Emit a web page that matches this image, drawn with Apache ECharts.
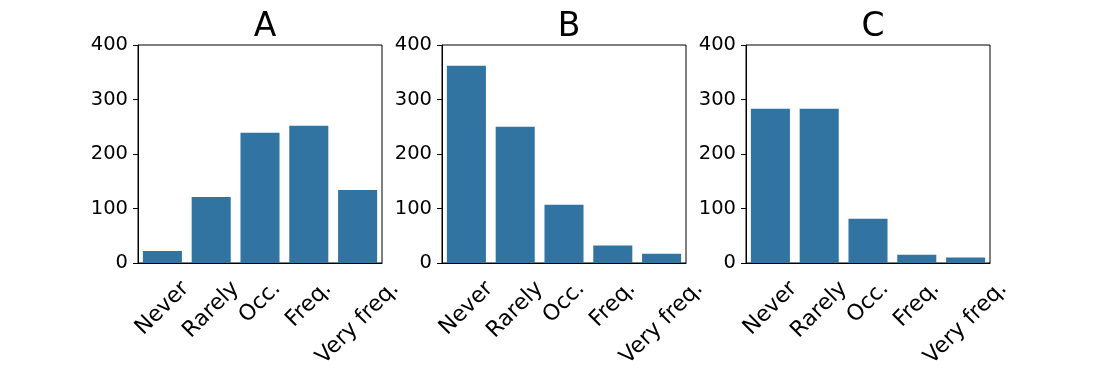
<!DOCTYPE html>
<html>
<head>
<meta charset="utf-8">
<script src="https://cdn.jsdelivr.net/npm/echarts@6/dist/echarts.min.js"></script>
<style>
  html, body { margin: 0; padding: 0; background: #fff; }
  #chart { width: 1100px; height: 375px; }
</style>
</head>
<body>
<div id="chart"></div>
<script>
  // data
  const categories = ['Never', 'Rarely', 'Occ.', 'Freq.', 'Very freq.']
  const panelTitles = ['A', 'B', 'C']
  const valuesA = [22, 121, 239, 252, 134]
  const valuesB = [362, 250, 107, 32, 17]
  const valuesC = [283, 283, 81, 15, 10]
  const yTicks = [0, 100, 200, 300, 400]

  const panelValues = [valuesA, valuesB, valuesC]
  const font = 'DejaVu Sans'
  const barColor = '#3274a1'
  const panelLeft = [138, 442, 746]
  const panelWidth = 244
  const panelTop = 45
  const panelHeight = 218
  const xFont = 22

  // matplotlib centres the rotated label box under the tick, top aligned;
  // echarts rotates around the anchor, so push each label down with padding
  const ctx = document.createElement('canvas').getContext('2d')
  ctx.font = xFont + 'px "' + font + '"'
  const labelH = 26
  const rich = {}
  categories.forEach((c, i) => {
    const w = ctx.measureText(c).width
    const d = 13 + (w + labelH) / (2 * Math.SQRT2)
    const p = Math.SQRT2 * d
    rich['c' + i] = { fontSize: xFont, fontFamily: font, color: '#000', padding: [p, p, 0, 0] }
  })

  const grids = []
  const xAxes = []
  const yAxes = []
  const series = []
  const titles = []
  panelTitles.forEach((t, k) => {
    grids.push({
      left: panelLeft[k],
      top: panelTop,
      width: panelWidth,
      height: panelHeight,
      show: true,
      borderColor: '#000',
      borderWidth: 1,
      backgroundColor: 'transparent',
      containLabel: false,
      outerBoundsMode: 'none'
    })
    xAxes.push({
      type: 'category',
      gridIndex: k,
      data: categories,
      axisLine: { lineStyle: { color: '#000', width: 1 } },
      axisTick: { alignWithLabel: true, length: 5, lineStyle: { color: '#000' } },
      axisLabel: {
        interval: 0,
        rotate: 45,
        margin: 0,
        align: 'center',
        verticalAlign: 'middle',
        hideOverlap: false,
        formatter: (v) => '{c' + categories.indexOf(v) + '|' + v + '}',
        rich: rich
      },
      splitLine: { show: false }
    })
    yAxes.push({
      type: 'value',
      gridIndex: k,
      min: 0,
      max: yTicks[yTicks.length - 1],
      interval: yTicks[1] - yTicks[0],
      axisLine: { show: true, lineStyle: { color: '#000', width: 1 } },
      axisTick: { show: true, length: 5, lineStyle: { color: '#000' } },
      axisLabel: { fontSize: 19.5, fontFamily: font, color: '#000', margin: 10 },
      splitLine: { show: false }
    })
    series.push({
      type: 'bar',
      xAxisIndex: k,
      yAxisIndex: k,
      data: panelValues[k],
      barCategoryGap: '20%',
      itemStyle: { color: barColor },
      animation: false
    })
    titles.push({
      text: t,
      left: panelLeft[k] + panelWidth / 2,
      top: 6,
      textAlign: 'center',
      textStyle: { fontSize: 33, fontWeight: 'normal', fontFamily: font, color: '#000' }
    })
  })

  const chart = echarts.init(document.getElementById('chart'))
  chart.setOption({
    animation: false,
    title: titles,
    grid: grids,
    xAxis: xAxes,
    yAxis: yAxes,
    series: series
  })
</script>
</body>
</html>
